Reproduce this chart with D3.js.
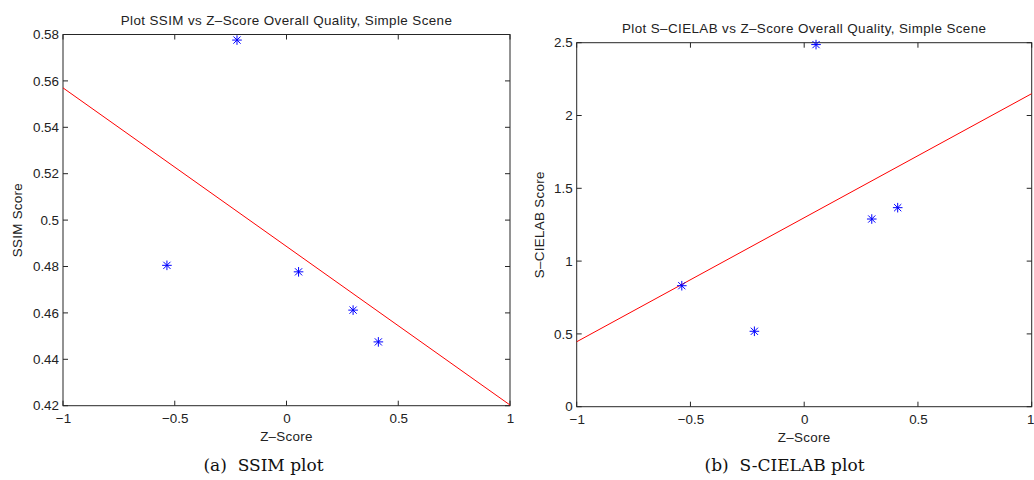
<!DOCTYPE html>
<html><head><meta charset="utf-8">
<script src="https://cdn.jsdelivr.net/npm/d3@7"></script>
<style>
body{margin:0;background:#fff;}
svg{display:block;}
.tick text{font-family:"Liberation Sans",Arial,sans-serif;font-size:13.4px;fill:#222;}
</style>
</head><body>
<svg id="c" width="1034" height="480"></svg>
<script>
// Data
const xTicks = [-1, -0.5, 0, 0.5, 1];
const ssimZ = [-0.535, -0.2215, 0.054, 0.298, 0.411];
const ssimScores = [0.4805, 0.5776, 0.4777, 0.4612, 0.4475];
const scielabZ = [-0.538, -0.219, 0.052, 0.297, 0.411];
const scielabScores = [0.831, 0.518, 2.487, 1.289, 1.367];
const fitX = [-1, 1];
const ssimFitY = [0.557, 0.4203];
const scielabFitY = [0.446, 2.150];
const ssimTicks = [0.42, 0.44, 0.46, 0.48, 0.5, 0.52, 0.54, 0.56, 0.58];
const scielabTicks = [0, 0.5, 1, 1.5, 2, 2.5];

const svg = d3.select("#c");
const fmtTick = d => (d < 0 ? "\u2212" : "") + String(Math.abs(d));
const FONT = "Liberation Sans, Arial, sans-serif";

function panel(cfg){
  const g = svg.append("g");
  const x = d3.scaleLinear().domain([-1,1]).range([cfg.left, cfg.right]);
  const y = d3.scaleLinear().domain(cfg.yDomain).range([cfg.bottom, cfg.top]);
  const axisColor = "#262626";
  const bx = g.append("g").attr("transform",`translate(0,${cfg.bottom})`)
    .call(d3.axisBottom(x).tickValues(xTicks).tickSize(0).tickPadding(8).tickFormat(fmtTick));
  bx.select(".domain").remove();
  if (cfg.lastEnd) {
    bx.selectAll(".tick text").filter(d=>d===1).attr("text-anchor","end").attr("x", 1034 - cfg.right);
  }
  const ly = g.append("g").attr("transform",`translate(${cfg.left},0)`)
    .call(d3.axisLeft(y).tickValues(cfg.yTicks).tickSize(0).tickPadding(4).tickFormat(cfg.yFmt));
  ly.select(".domain").remove();
  const tl = 5;
  xTicks.forEach(t=>{
    g.append("line").attr("x1",x(t)).attr("x2",x(t)).attr("y1",cfg.bottom).attr("y2",cfg.bottom-tl).attr("stroke",axisColor);
    g.append("line").attr("x1",x(t)).attr("x2",x(t)).attr("y1",cfg.top).attr("y2",cfg.top+tl).attr("stroke",axisColor);
  });
  cfg.yTicks.forEach(t=>{
    g.append("line").attr("y1",y(t)).attr("y2",y(t)).attr("x1",cfg.left).attr("x2",cfg.left+tl).attr("stroke",axisColor);
    g.append("line").attr("y1",y(t)).attr("y2",y(t)).attr("x1",cfg.right).attr("x2",cfg.right-tl).attr("stroke",axisColor);
  });
  g.append("rect").attr("x",cfg.left).attr("y",cfg.top).attr("width",cfg.right-cfg.left).attr("height",cfg.bottom-cfg.top)
    .attr("fill","none").attr("stroke",axisColor).attr("stroke-width",1);
  g.append("path").datum(fitX.map((v,i)=>[v,cfg.fitY[i]]))
    .attr("d", d3.line().x(d=>x(d[0])).y(d=>y(d[1])))
    .attr("stroke","#ff0000").attr("stroke-width",1).attr("fill","none");
  const s = 4.8, s2 = 3.6;
  g.selectAll(".pt").data(cfg.zs.map((z,i)=>[z,cfg.values[i]])).enter().append("path")
    .attr("d", d=>{
      const cx=x(d[0]), cy=y(d[1]);
      return `M${cx-s},${cy}L${cx+s},${cy}M${cx},${cy-s}L${cx},${cy+s}M${cx-s2},${cy-s2}L${cx+s2},${cy+s2}M${cx-s2},${cy+s2}L${cx+s2},${cy-s2}`;
    })
    .attr("stroke","#0000ff").attr("stroke-width",1).attr("fill","none");
  const cx = (cfg.left+cfg.right)/2;
  g.append("text").attr("x",cx).attr("y",cfg.top-10).attr("text-anchor","middle")
    .style("font-family",FONT).style("font-size","13.4px").style("letter-spacing","0.4px").attr("fill","#222").text(cfg.title);
  g.append("text").attr("x",cx).attr("y",cfg.bottom+35.5).attr("text-anchor","middle")
    .style("font-family",FONT).style("font-size","13.4px").style("letter-spacing","0.3px").attr("fill","#222").text("Z\u2013Score");
  g.append("text").attr("transform",`translate(${cfg.ylabX},${(cfg.top+cfg.bottom)/2}) rotate(-90)`).attr("text-anchor","middle")
    .style("font-family",FONT).style("font-size","13.4px").style("letter-spacing","0.3px").attr("fill","#222").text(cfg.ylab);
  g.append("text").attr("x",cfg.capX).attr("y",471).attr("text-anchor","middle")
    .style("font-family","DejaVu Serif, serif").style("font-size","17px").style("white-space","pre")
    .attr("xml:space","preserve").attr("fill","#111").text(cfg.caption);
}

panel({left:63,right:510,top:34.5,bottom:405.7,yDomain:[0.42,0.58],yTicks:ssimTicks,
  yFmt:d=>d3.format(".2~f")(d), zs:ssimZ, values:ssimScores, fitY:ssimFitY,
  title:"Plot SSIM vs Z\u2013Score Overall Quality, Simple Scene", ylab:"SSIM Score", ylabX:22,
  caption:"(a)  SSIM plot", capX:263.5});
panel({left:576.7,right:1031.7,top:42.7,bottom:406.7,yDomain:[0,2.5],yTicks:scielabTicks,
  yFmt:d=>String(d), zs:scielabZ, values:scielabScores, fitY:scielabFitY, lastEnd:true,
  title:"Plot S\u2013CIELAB vs Z\u2013Score Overall Quality, Simple Scene", ylab:"S\u2013CIELAB Score", ylabX:544,
  caption:"(b)  S-CIELAB plot", capX:784.5});
</script>
</body></html>
